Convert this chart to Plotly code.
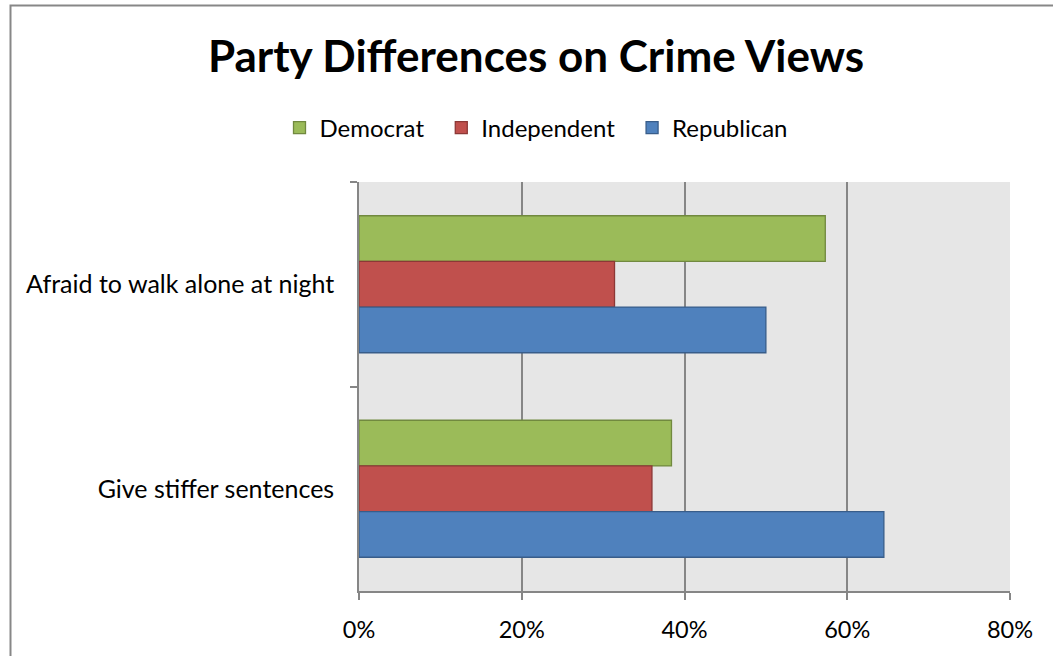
import plotly.graph_objects as go

categories = ["Afraid to walk alone at night", "Give stiffer sentences"]
series_names = ["Democrat", "Independent", "Republican"]
democrat = [0.573, 0.384]
independent = [0.314, 0.360]
republican = [0.500, 0.645]
tick_vals = [0, 0.2, 0.4, 0.6, 0.8]
tick_text = ["0%", "20%", "40%", "60%", "80%"]

fills = ["#9BBB59", "#C0504D", "#4F81BD"]
edges = ["#71893F", "#8C3836", "#385D8A"]

FONT = "Lato"
PAD = "\u00a0\u00a0"  # extra spacing between legend entries
fig = go.Figure()
for i, (name, vals, fc, ec) in enumerate(zip(series_names, [democrat, independent, republican], fills, edges)):
    fig.add_trace(go.Bar(
        y=categories, x=vals, name=name + (PAD if i < len(series_names) - 1 else ""),
        orientation="h",
        marker=dict(color=fc, line=dict(color=ec, width=1.3)),
    ))

W, H = 1053, 656
L, R, T, B = 359, 1010, 182, 591
pw, ph = R - L, B - T

fig.update_layout(
    width=W, height=H,
    margin=dict(l=L, r=W - R, t=T, b=H - B, autoexpand=False),
    paper_bgcolor="white", plot_bgcolor="#E6E6E6",
    barmode="group", bargap=0.33, bargroupgap=0,
    font=dict(family=FONT, color="black", size=24),
    title=dict(text="<b>Party Differences on Crime Views</b>", x=536 / W, xanchor="center",
               y=1 - 57 / H, yanchor="middle", yref="container",
               font=dict(family=FONT, size=44, color="black")),
    legend=dict(orientation="h", x=536 / W, xanchor="center", xref="container",
                y=1 - 128 / H, yanchor="middle", yref="container",
                font=dict(family=FONT, size=24), traceorder="normal",
                itemwidth=30, tracegroupgap=0),
    xaxis=dict(range=[0, 0.8], tickvals=tick_vals, ticktext=tick_text,
               showgrid=True, gridcolor="#868686", gridwidth=1.6,
               showline=True, linecolor="#868686", linewidth=1.6,
               ticks="outside", ticklen=7, tickcolor="#868686", tickwidth=1.6,
               ticklabelstandoff=10, zeroline=False,
               tickfont=dict(family=FONT, size=23.5)),
    yaxis=dict(autorange="reversed", showgrid=False,
               showline=True, linecolor="#868686", linewidth=1.6,
               ticks="outside", ticklen=7, tickcolor="#868686", tickwidth=1.6,
               tickson="boundaries", ticklabelstandoff=18,
               tickfont=dict(family=FONT, size=25)),
    shapes=[dict(type="rect", xref="paper", yref="paper",
                 x0=(10.5 - L) / pw, x1=(1070 - L) / pw,
                 y0=(B - 680) / ph, y1=(B - 5.5) / ph,
                 line=dict(color="#878787", width=2), fillcolor="rgba(0,0,0,0)", layer="above")],
)

fig.write_html("out.html", config={"displayModeBar": False},
               post_script="document.body.style.margin='0px';")
